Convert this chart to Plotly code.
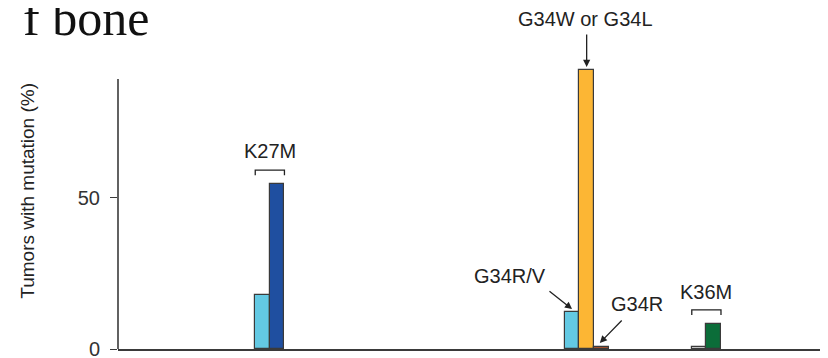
import plotly.graph_objects as go

# ---- data ----
mutation_labels = ["K27M (HIST1H3B)", "K27M (H3F3A)", "G34R/V (H3F3A)",
                   "G34W or G34L (H3F3A)", "G34R (H3F3B)", "K36M (H3F3A)", "K36M (H3F3B)"]
tumor_pct = [18.0, 54.5, 12.3, 92.2, 0.8, 0.8, 8.3]
bar_slots = [9.9, 10.9, 31.1, 32.1, 33.1, 39.8, 40.8]
bar_colors = ["#63c9e3", "#1f4fa0", "#63c9e3", "#fcb634", "#c4592a", "#f2f2f2", "#0b6d39"]
y_tick_vals = [0, 50]
y_tick_text = ["0", "50"]

TXT = "#222222"
LINE = "#3a3a3a"
SANS = "Liberation Sans, Arial, Helvetica, sans-serif"

fig = go.Figure()
fig.add_trace(go.Bar(
    x=bar_slots, y=tumor_pct, width=1.0,
    marker=dict(color=bar_colors, line=dict(color=LINE, width=1.2)),
    hovertext=mutation_labels, showlegend=False,
))

Y_MAX = 112.36
X_MAX = 48.63

shapes = [
    # y axis line (only up to ~89%)
    dict(type="line", xref="paper", yref="y", x0=0, x1=0, y0=0, y1=89.2,
         line=dict(color=LINE, width=1.6)),
]

def bracket(i0, i1, gap=4.6, leg=1.7):
    x0 = bar_slots[i0] - 0.5
    x1 = bar_slots[i1] + 0.5
    y = max(tumor_pct[i0:i1 + 1]) + gap
    return dict(type="path", xref="x", yref="y",
                path=f"M {x0},{y-leg} L {x0},{y} L {x1},{y} L {x1},{y-leg}",
                line=dict(color=TXT, width=1.3)), (x0 + x1) / 2, y

b1, bx1, by1 = bracket(0, 1)
b2, bx2, by2 = bracket(5, 6)
shapes += [b1, b2]

annotations = [
    dict(text="K27M", x=bx1, y=by1 + 6.2, xref="x", yref="y", showarrow=False,
         font=dict(family=SANS, size=20, color=TXT)),
    dict(text="K36M", x=bx2, y=by2 + 6.0, xref="x", yref="y", showarrow=False,
         font=dict(family=SANS, size=20, color=TXT)),
    dict(text="G34W or G34L", x=32.05, y=108.9, xref="x", yref="y", showarrow=False,
         font=dict(family=SANS, size=20, color=TXT)),
    dict(text="", x=bar_slots[3], y=93.2, ax=bar_slots[3], ay=104.4,
         xref="x", yref="y", axref="x", ayref="y", showarrow=True,
         arrowhead=2, arrowsize=1.1, arrowwidth=1.3, arrowcolor=TXT, standoff=0),
    dict(text="G34R/V", x=26.85, y=24.1, xref="x", yref="y", showarrow=False,
         font=dict(family=SANS, size=20, color=TXT)),
    dict(text="", x=31.1, y=13.2, ax=29.45, ay=19.5,
         xref="x", yref="y", axref="x", ayref="y", showarrow=True,
         arrowhead=2, arrowsize=1.1, arrowwidth=1.3, arrowcolor=TXT, standoff=0),
    dict(text="G34R", x=35.55, y=14.9, xref="x", yref="y", showarrow=False,
         font=dict(family=SANS, size=20, color=TXT)),
    dict(text="", x=33.0, y=2.0, ax=34.6, ay=9.9,
         xref="x", yref="y", axref="x", ayref="y", showarrow=True,
         arrowhead=2, arrowsize=1.1, arrowwidth=1.3, arrowcolor=TXT, standoff=0),
    # y axis title
    dict(text="Tumors with mutation (%)", x=-0.127, y=0.465, xref="paper", yref="paper",
         textangle=-90, showarrow=False, xanchor="center", yanchor="middle",
         font=dict(family=SANS, size=19, color=TXT)),
    # cropped heading
    dict(text="f bone", x=0.0465, y=0.974, xref="paper", yref="paper",
         xanchor="right", yanchor="middle", showarrow=False,
         font=dict(family="Liberation Serif, Times New Roman, serif", size=50, color="#111111")),
]

# the page body has an 8px default margin, so the figure is laid out 8px up/left;
# the lower 8px of the figure fall outside the window
fig.update_layout(
    width=820, height=358,
    margin=dict(l=110, r=0, t=1, b=17),
    paper_bgcolor="white", plot_bgcolor="white",
    xaxis=dict(range=[0, X_MAX], showline=True, linecolor=LINE, linewidth=1.6,
               showticklabels=False, ticks="", showgrid=False, zeroline=False),
    yaxis=dict(range=[0, Y_MAX], showline=False, showgrid=False, zeroline=False,
               tickvals=y_tick_vals, ticktext=y_tick_text, ticks="outside",
               ticklen=7, tickwidth=1.4, tickcolor=LINE, ticklabelstandoff=6,
               tickfont=dict(family=SANS, size=20, color="#333333")),
    shapes=shapes, annotations=annotations, bargap=0,
)

fig.write_html("out.html")
